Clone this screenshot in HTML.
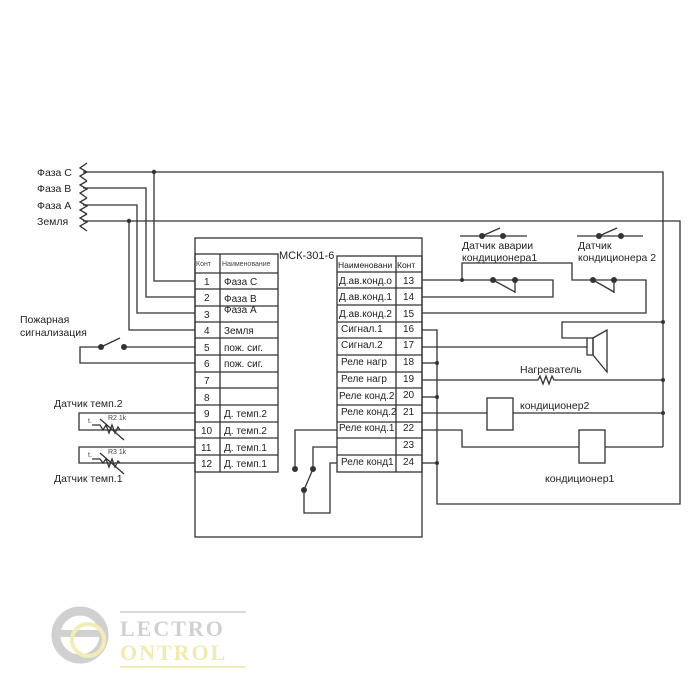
<!DOCTYPE html>
<html><head><meta charset="utf-8"><style>
html,body{margin:0;padding:0;background:#fff;}
svg{display:block;font-family:"Liberation Sans",sans-serif;}
</style></head><body>
<svg width="700" height="700" viewBox="0 0 700 700" xmlns="http://www.w3.org/2000/svg">
<g stroke="#333" stroke-width="1.3" fill="none">
<!-- main box -->
<rect x="195" y="238" width="227" height="299"/>
<!-- left table -->
<rect x="195" y="254" width="83" height="218"/>
<line x1="220" y1="254" x2="220" y2="472"/>
<line x1="195" y1="273" x2="278" y2="273"/>
<line x1="195" y1="289" x2="278" y2="289"/><line x1="195" y1="306" x2="278" y2="306"/>
<line x1="195" y1="322" x2="278" y2="322"/><line x1="195" y1="338" x2="278" y2="338"/>
<line x1="195" y1="355" x2="278" y2="355"/><line x1="195" y1="372" x2="278" y2="372"/>
<line x1="195" y1="388" x2="278" y2="388"/><line x1="195" y1="405" x2="278" y2="405"/>
<line x1="195" y1="422" x2="278" y2="422"/><line x1="195" y1="438" x2="278" y2="438"/>
<line x1="195" y1="455" x2="278" y2="455"/>
<!-- right table -->
<rect x="337" y="256" width="85" height="216"/>
<line x1="396" y1="256" x2="396" y2="472"/>
<line x1="337" y1="272" x2="422" y2="272"/>
<line x1="337" y1="288" x2="422" y2="288"/><line x1="337" y1="305" x2="422" y2="305"/>
<line x1="337" y1="322" x2="422" y2="322"/><line x1="337" y1="338" x2="422" y2="338"/>
<line x1="337" y1="355" x2="422" y2="355"/><line x1="337" y1="372" x2="422" y2="372"/>
<line x1="337" y1="388" x2="422" y2="388"/><line x1="337" y1="405" x2="422" y2="405"/>
<line x1="337" y1="422" x2="422" y2="422"/><line x1="337" y1="438" x2="422" y2="438"/>
<line x1="337" y1="455" x2="422" y2="455"/>

<!-- phase inputs -->
<polyline points="87,163 80,168 87,172 80,176 87,181"/>
<polyline points="87,181 80,185 87,189 80,193 87,198"/>
<polyline points="87,198 80,202 87,206 80,210 87,214"/>
<polyline points="87,214 80,218 87,222 80,226 87,231"/>
<polyline points="83,172 663,172 663,447"/>
<polyline points="83,188 146,188 146,297 195,297"/>
<polyline points="83,205 137,205 137,313 195,313"/>
<polyline points="83,221 680,221 680,504 437,504 437,330 422,330"/>
<polyline points="154,172 154,281 195,281"/>
<polyline points="129,221 129,330 195,330"/>

<!-- fire alarm -->
<polyline points="101,347 80,347 80,363 195,363"/>
<line x1="124" y1="347" x2="195" y2="347"/>
<line x1="101" y1="347" x2="120" y2="338"/>
<!-- temp sensors -->
<polyline points="195,413 79,413 79,430 195,430"/>
<polyline points="195,447 79,447 79,463 195,463"/>
<polyline points="92,425 100,425 103,430 106,425 109,433 112,425 115,433 118,427 120,430"/>
<line x1="100" y1="419" x2="124" y2="440"/>
<polyline points="92,459 100,459 103,463 106,459 109,467 112,459 115,467 118,461 120,463"/>
<line x1="100" y1="453" x2="124" y2="474"/>

<!-- relay switch inside box -->
<polyline points="337,430 295,430 295,469"/>
<polyline points="337,447 313,447 313,469"/>
<line x1="313" y1="469" x2="304" y2="490"/>
<polyline points="304,490 304,513 330,513 330,463 337,463"/>

<!-- right side: sensors -->
<polyline points="422,280 553,280 553,297 422,297"/>
<line x1="493" y1="280" x2="515" y2="292"/><line x1="515" y1="280" x2="515" y2="293"/>
<polyline points="462,280 462,263 572,263 572,280 646,280 646,313 422,313"/>
<line x1="593" y1="280" x2="614" y2="292"/><line x1="614" y1="280" x2="614" y2="293"/>
<line x1="460" y1="236" x2="527" y2="236"/><line x1="482" y1="236" x2="500" y2="228"/>
<line x1="577" y1="236" x2="643" y2="236"/><line x1="599" y1="236" x2="617" y2="228"/>
<!-- speaker -->
<polyline points="663,322 562,322 562,338 587,338"/>
<line x1="422" y1="347" x2="587" y2="347"/>
<rect x="587" y="338" width="6" height="17"/>
<polygon points="593,338 607,330 607,372 593,355"/>
<!-- heater -->
<polyline points="422,363 437,363"/>
<polyline points="422,380 538,380 540,376 543,384 546,376 549,384 552,376 554,380 663,380"/>
<line x1="422" y1="397" x2="437" y2="397"/>
<!-- cond2 -->
<line x1="422" y1="413" x2="487" y2="413"/>
<rect x="487" y="398" width="26" height="32"/>
<line x1="513" y1="413" x2="663" y2="413"/>
<!-- cond1 -->
<polyline points="422,430 462,430 462,447 579,447"/>
<rect x="579" y="430" width="26" height="33"/>
<line x1="605" y1="447" x2="663" y2="447"/>
<line x1="422" y1="463" x2="437" y2="463"/>
</g>
<g fill="#333">
<circle cx="154" cy="172" r="2.2"/><circle cx="129" cy="221" r="2.2"/>
<circle cx="101" cy="347" r="3"/><circle cx="124" cy="347" r="3"/>
<circle cx="295" cy="469" r="3"/><circle cx="313" cy="469" r="3"/><circle cx="304" cy="490" r="3"/>
<circle cx="462" cy="280" r="2"/><circle cx="493" cy="280" r="3"/><circle cx="515" cy="280" r="3"/>
<circle cx="593" cy="280" r="3"/><circle cx="614" cy="280" r="3"/>
<circle cx="482" cy="236" r="3"/><circle cx="503" cy="236" r="3"/>
<circle cx="599" cy="236" r="3"/><circle cx="621" cy="236" r="3"/>
<circle cx="663" cy="322" r="2"/><circle cx="663" cy="380" r="2"/><circle cx="663" cy="413" r="2"/>
<circle cx="437" cy="363" r="2"/><circle cx="437" cy="397" r="2"/><circle cx="437" cy="463" r="2"/>
</g>
<g fill="#222" font-size="10.5">
<text x="37" y="176">Фаза С</text><text x="37" y="192">Фаза В</text>
<text x="37" y="209">Фаза А</text><text x="37" y="225">Земля</text>
<text x="20" y="323">Пожарная</text><text x="20" y="336">сигнализация</text>
<text x="54" y="407">Датчик темп.2</text><text x="54" y="482">Датчик темп.1</text>
<text x="279" y="259" font-size="11">МСК-301-6</text>
<text x="462" y="249">Датчик аварии</text><text x="462" y="261">кондиционера1</text>
<text x="578" y="249">Датчик</text><text x="578" y="261">кондиционера 2</text>
<text x="520" y="373">Нагреватель</text>
<text x="520" y="409">кондиционер2</text>
<text x="545" y="482">кондиционер1</text>
</g>
<g fill="#444" font-size="7">
<text x="88" y="423">t.</text><text x="108" y="420">R2 1k</text>
<text x="88" y="457">t.</text><text x="108" y="454">R3 1k</text>
<text x="196" y="266">Конт</text><text x="222" y="266">Наименование</text>
</g>
<g fill="#222" font-size="8.5">
<text x="338" y="268">Наименовани</text><text x="397" y="268">Конт</text>
</g>
<g fill="#222" font-size="10">
<text x="204" y="285">1</text><text x="204" y="301">2</text><text x="204" y="318">3</text><text x="204" y="334">4</text>
<text x="204" y="351">5</text><text x="204" y="367">6</text><text x="204" y="384">7</text><text x="204" y="401">8</text>
<text x="204" y="417">9</text><text x="201" y="434">10</text><text x="201" y="451">11</text><text x="201" y="467">12</text>
<text x="224" y="285">Фаза С</text><text x="224" y="302">Фаза В</text><text x="224" y="313">Фаза А</text>
<text x="224" y="334">Земля</text><text x="224" y="351">пож. сиг.</text><text x="224" y="367">пож. сиг.</text>
<text x="224" y="417">Д. темп.2</text><text x="224" y="434">Д. темп.2</text>
<text x="224" y="451">Д. темп.1</text><text x="224" y="467">Д. темп.1</text>
<text x="339" y="284">Д.ав.конд.о</text><text x="339" y="300">Д.ав.конд.1</text><text x="339" y="317">Д.ав.конд.2</text>
<text x="341" y="332">Сигнал.1</text><text x="341" y="348">Сигнал.2</text>
<text x="341" y="365">Реле нагр</text><text x="341" y="382">Реле нагр</text>
<text x="339" y="399">Реле конд.2</text><text x="341" y="415">Реле конд.2</text>
<text x="339" y="431">Реле конд.1</text><text x="341" y="465">Реле конд1</text>
<text x="403" y="284">13</text><text x="403" y="300">14</text><text x="403" y="317">15</text><text x="403" y="332">16</text>
<text x="403" y="348">17</text><text x="403" y="365">18</text><text x="403" y="382">19</text><text x="403" y="398">20</text>
<text x="403" y="415">21</text><text x="403" y="431">22</text><text x="403" y="448">23</text><text x="403" y="465">24</text>
</g>
<!-- logo -->
<g opacity="0.55">
<circle cx="80" cy="635" r="24" fill="none" stroke="#aaa" stroke-width="9"/>
<rect x="58" y="630" width="48" height="7" fill="#aaa"/>
<circle cx="88" cy="640" r="16" fill="none" stroke="#e8e07a" stroke-width="4"/>
<line x1="120" y1="612" x2="246" y2="612" stroke="#bbb" stroke-width="2"/>
<line x1="120" y1="667" x2="246" y2="667" stroke="#e8e07a" stroke-width="2"/>
<text x="120" y="636" font-size="22" font-weight="bold" fill="#aaa" font-family="Liberation Serif,serif" letter-spacing="2">LECTRO</text>
<text x="120" y="660" font-size="22" font-weight="bold" fill="#e6dc70" font-family="Liberation Serif,serif" letter-spacing="2">ONTROL</text>
</g>
</svg>
</body></html>
